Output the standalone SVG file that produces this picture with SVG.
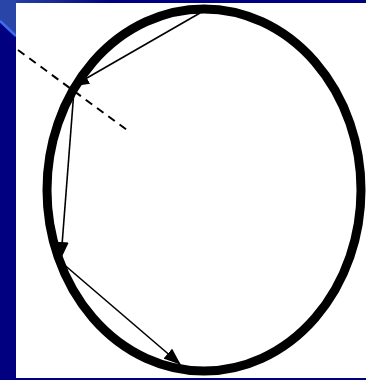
<svg xmlns="http://www.w3.org/2000/svg" width="366" height="380" viewBox="0 0 366 380">
<defs>
<linearGradient id="bg" x1="0" y1="0" x2="1" y2="0">
<stop offset="0" stop-color="#2a45a8"/>
<stop offset="0.15" stop-color="#1a2a90"/>
<stop offset="0.3" stop-color="#000080"/>
</linearGradient>
<marker id="ah" viewBox="0 0 17 13" refX="16" refY="6.5" markerWidth="17" markerHeight="13" markerUnits="userSpaceOnUse" orient="auto">
<path d="M0,0 L17,6.5 L0,13 Z" fill="#000"/>
</marker>
<style>
.arrow{stroke:#000;stroke-width:1.6;fill:none}
</style>
</defs>
<rect x="0" y="0" width="366" height="380" fill="#000080"/>
<rect x="0" y="0" width="366" height="4" fill="url(#bg)"/>
<polygon points="0,0 16,0 16,36 0,21" fill="#2a45a8"/>
<line x1="0" y1="21" x2="16" y2="36" stroke="#3d6cf0" stroke-width="2.5"/>
<rect x="16" y="3" width="350" height="375" fill="#fff"/>
<g id="circle">
<ellipse cx="204" cy="190" rx="157" ry="181" fill="none" stroke="#000" stroke-width="9"/>
</g>
<g id="connectors">
<line x1="18" y1="50" x2="127" y2="130" stroke="#000" stroke-width="2" stroke-dasharray="8,6"/>
<line class="arrow" x1="200" y1="13" x2="73" y2="86" marker-end="url(#ah)"/>
<line class="arrow" x1="74" y1="90" x2="61" y2="258" marker-end="url(#ah)"/>
<line class="arrow" x1="61" y1="262" x2="180" y2="364" marker-end="url(#ah)"/>
</g>
</svg>
